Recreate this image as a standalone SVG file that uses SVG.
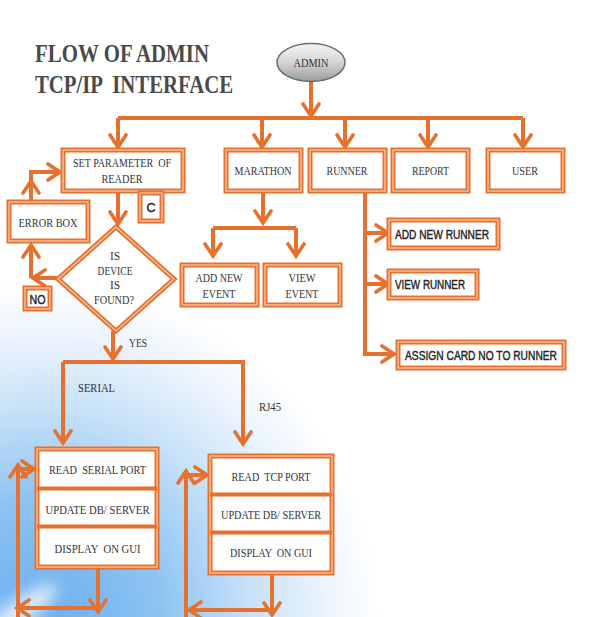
<svg xmlns="http://www.w3.org/2000/svg" xmlns:xlink="http://www.w3.org/1999/xlink" width="605" height="617" viewBox="0 0 605 617">
  <defs>
    <style>
      .box { fill: #ffffff; stroke: #e6702e; stroke-width: 5; }
      .boxin { fill: none; stroke: #f9c6a3; stroke-width: 1.3; }
      .wire { fill: none; stroke: #e6702e; stroke-width: 4; }
      .tip { fill: none; stroke: #e6702e; stroke-width: 3.6; stroke-linecap: round; stroke-linejoin: miter; }
      .t { font-family: "Liberation Serif", "Times New Roman", serif; font-size: 11.5px; fill: #333333; text-anchor: middle; white-space: pre; }
      .s { font-family: "Liberation Sans", Arial, sans-serif; font-size: 12.5px; fill: #222222; stroke: #222222; stroke-width: 0.4; white-space: pre; }
      .title { font-family: "Liberation Serif", "Times New Roman", serif; font-size: 26px; font-weight: bold; fill: #4a4a4a; white-space: pre; }
    </style>
    <radialGradient id="bgBlue" gradientUnits="userSpaceOnUse" cx="40" cy="620" r="340">
      <stop offset="0" stop-color="#6aaeef"/>
      <stop offset="0.35" stop-color="#8cc3f2"/>
      <stop offset="0.62" stop-color="#c6e1f8"/>
      <stop offset="0.85" stop-color="#eef5fd"/>
      <stop offset="1" stop-color="#ffffff"/>
    </radialGradient>
    <linearGradient id="adminFill" x1="0" y1="0" x2="0" y2="1">
      <stop offset="0" stop-color="#f6f6f6"/>
      <stop offset="0.5" stop-color="#d4d4d4"/>
      <stop offset="1" stop-color="#9c9c9c"/>
    </linearGradient>
    <filter id="soft" x="-50%" y="-50%" width="200%" height="200%">
      <feGaussianBlur stdDeviation="8"/>
    </filter>
    <marker id="arrow" markerUnits="userSpaceOnUse" viewBox="-15 -11 18 22" refX="0" refY="0" markerWidth="18" markerHeight="22" orient="auto">
      <path class="tip" d="M-12,-8 L0,0 L-12,8"/>
    </marker>
  </defs>

  <!-- background: white page with a blue glow in the lower-left corner -->
  <rect x="0" y="0" width="605" height="617" fill="#ffffff"/>
  <rect x="0" y="0" width="605" height="617" fill="url(#bgBlue)"/>
  <ellipse cx="20" cy="612" rx="45" ry="12" fill="#ffffff" opacity="0.8" transform="rotate(-35 20 612)" filter="url(#soft)"/>

  <!-- title -->
  <text class="title" x="35" y="62" textLength="174" lengthAdjust="spacingAndGlyphs">FLOW OF ADMIN</text>
  <text class="title" x="35" y="93" textLength="198" lengthAdjust="spacingAndGlyphs">TCP/IP  INTERFACE</text>

  <!-- connectors -->
  <g id="connectors">
    <g class="wire">
      <path d="M311,82 V116" marker-end="url(#arrow)"/>
      <path d="M118,118 H523"/>
      <path d="M118,118 V147" marker-end="url(#arrow)"/>
      <path d="M262,118 V147" marker-end="url(#arrow)"/>
      <path d="M345,118 V147" marker-end="url(#arrow)"/>
      <path d="M428,118 V147" marker-end="url(#arrow)"/>
      <path d="M523,118 V147" marker-end="url(#arrow)"/>
      <path d="M118,191 V224" marker-end="url(#arrow)"/>
      <path d="M58,278 H33" marker-end="url(#arrow)"/>
      <path d="M31,278 V245" marker-end="url(#arrow)"/>
      <path d="M31,202 V181" marker-end="url(#arrow)"/>
      <path d="M31,181 V172 H60" marker-end="url(#arrow)"/>
      <path d="M263,191 V223" marker-end="url(#arrow)"/>
      <path d="M213,228 H296"/>
      <path d="M213,228 V256" marker-end="url(#arrow)"/>
      <path d="M296,228 V256" marker-end="url(#arrow)"/>
      <path d="M365,191 V354 H394" marker-end="url(#arrow)"/>
      <path d="M365,233 H388" marker-end="url(#arrow)"/>
      <path d="M365,284 H388" marker-end="url(#arrow)"/>
      <path d="M113,331 V359" marker-end="url(#arrow)"/>
      <path d="M63,362 H245"/>
      <path d="M63,362 V443" marker-end="url(#arrow)"/>
      <path d="M243,362 V444" marker-end="url(#arrow)"/>
      <path d="M98,567 V612" marker-end="url(#arrow)"/>
      <path d="M98,608 H17" marker-end="url(#arrow)"/>
      <path d="M18,620 V465" marker-end="url(#arrow)"/>
      <path d="M18,469 H34" marker-end="url(#arrow)"/>
      <path d="M272,573 V615" marker-end="url(#arrow)"/>
      <path d="M272,610 H189" marker-end="url(#arrow)"/>
      <path d="M186,620 V471" marker-end="url(#arrow)"/>
      <path d="M186,475 H207" marker-end="url(#arrow)"/>
    </g>
  </g>

  <!-- nodes -->
  <g id="admin">
    <ellipse cx="311" cy="62.5" rx="34" ry="19" fill="url(#adminFill)" stroke="#6b6b6b" stroke-width="1.5"/>
    <text class="t" x="311" y="67" textLength="35" lengthAdjust="spacingAndGlyphs">ADMIN</text>
  </g>

  <g id="set-parameter">
    <rect class="box" x="63" y="150" width="120" height="41"/>
    <rect class="boxin" x="63" y="150" width="120" height="41"/>
    <text class="t" x="122" y="167" textLength="98" lengthAdjust="spacingAndGlyphs">SET PARAMETER  OF</text>
    <text class="t" x="122" y="183" textLength="41" lengthAdjust="spacingAndGlyphs">READER</text>
  </g>

  <g id="marathon">
    <rect class="box" x="226" y="150" width="75" height="41"/>
    <rect class="boxin" x="226" y="150" width="75" height="41"/>
    <text class="t" x="263" y="175" textLength="57" lengthAdjust="spacingAndGlyphs">MARATHON</text>
  </g>

  <g id="runner">
    <rect class="box" x="310" y="150" width="75" height="41"/>
    <rect class="boxin" x="310" y="150" width="75" height="41"/>
    <text class="t" x="347" y="175" textLength="41" lengthAdjust="spacingAndGlyphs">RUNNER</text>
  </g>

  <g id="report">
    <rect class="box" x="393" y="150" width="75" height="41"/>
    <rect class="boxin" x="393" y="150" width="75" height="41"/>
    <text class="t" x="430.5" y="175" textLength="37" lengthAdjust="spacingAndGlyphs">REPORT</text>
  </g>

  <g id="user">
    <rect class="box" x="488" y="150" width="75" height="41"/>
    <rect class="boxin" x="488" y="150" width="75" height="41"/>
    <text class="t" x="525" y="175" textLength="26" lengthAdjust="spacingAndGlyphs">USER</text>
  </g>

  <g id="c-label">
    <rect class="box" x="140" y="193" width="22" height="28"/>
    <rect class="boxin" x="140" y="193" width="22" height="28"/>
    <text class="s" x="151" y="212" text-anchor="middle">C</text>
  </g>

  <g id="error-box">
    <rect class="box" x="9" y="202" width="79" height="39"/>
    <rect class="boxin" x="9" y="202" width="79" height="39"/>
    <text class="t" x="48" y="227" textLength="59" lengthAdjust="spacingAndGlyphs">ERROR BOX</text>
  </g>

  <g id="device-found">
    <polygon class="box" points="116,227 174,279 116,331 58,279"/>
    <polygon class="boxin" points="116,227 174,279 116,331 58,279"/>
    <text class="t" x="115" y="260">IS</text>
    <text class="t" x="115" y="275" textLength="35" lengthAdjust="spacingAndGlyphs">DEVICE</text>
    <text class="t" x="115" y="289">IS</text>
    <text class="t" x="114" y="304" textLength="40" lengthAdjust="spacingAndGlyphs">FOUND?</text>
  </g>

  <g id="no-label">
    <rect class="box" x="25" y="288" width="25" height="21"/>
    <rect class="boxin" x="25" y="288" width="25" height="21"/>
    <text class="s" x="37.5" y="304" text-anchor="middle" textLength="16" lengthAdjust="spacingAndGlyphs">NO</text>
  </g>

  <g id="add-new-event">
    <rect class="box" x="182" y="265" width="75" height="40"/>
    <rect class="boxin" x="182" y="265" width="75" height="40"/>
    <text class="t" x="219" y="282" textLength="47" lengthAdjust="spacingAndGlyphs">ADD NEW</text>
    <text class="t" x="219" y="298" textLength="33" lengthAdjust="spacingAndGlyphs">EVENT</text>
  </g>

  <g id="view-event">
    <rect class="box" x="265" y="265" width="75" height="40"/>
    <rect class="boxin" x="265" y="265" width="75" height="40"/>
    <text class="t" x="302" y="282" textLength="27" lengthAdjust="spacingAndGlyphs">VIEW</text>
    <text class="t" x="302" y="298" textLength="33" lengthAdjust="spacingAndGlyphs">EVENT</text>
  </g>

  <g id="add-new-runner">
    <rect class="box" x="389" y="220" width="109" height="28"/>
    <rect class="boxin" x="389" y="220" width="109" height="28"/>
    <text class="s" x="395" y="239" textLength="94" lengthAdjust="spacingAndGlyphs">ADD NEW RUNNER</text>
  </g>

  <g id="view-runner">
    <rect class="box" x="389" y="271" width="88" height="27"/>
    <rect class="boxin" x="389" y="271" width="88" height="27"/>
    <text class="s" x="395" y="289" textLength="70" lengthAdjust="spacingAndGlyphs">VIEW RUNNER</text>
  </g>

  <g id="assign-card">
    <rect class="box" x="398" y="342" width="166" height="26"/>
    <rect class="boxin" x="398" y="342" width="166" height="26"/>
    <text class="s" x="405" y="360" textLength="152" lengthAdjust="spacingAndGlyphs">ASSIGN CARD NO TO RUNNER</text>
  </g>

  <g id="branch-labels">
    <text class="t" x="138" y="347" textLength="18" lengthAdjust="spacingAndGlyphs">YES</text>
    <text class="t" x="96.5" y="392" textLength="37" lengthAdjust="spacingAndGlyphs">SERIAL</text>
    <text class="t" x="270" y="411" textLength="22" lengthAdjust="spacingAndGlyphs">RJ45</text>
  </g>

  <g id="serial-stack">
    <rect class="box" x="37" y="449" width="120" height="118"/>
    <rect class="boxin" x="37" y="449" width="120" height="118"/>
    <line class="box" x1="37" y1="488.5" x2="157" y2="488.5" style="stroke-width:4"/>
    <line class="box" x1="37" y1="526.5" x2="157" y2="526.5" style="stroke-width:4"/>
    <text class="t" x="97.5" y="474" textLength="97" lengthAdjust="spacingAndGlyphs">READ  SERIAL PORT</text>
    <text class="t" x="97.5" y="514" textLength="104" lengthAdjust="spacingAndGlyphs">UPDATE DB/ SERVER</text>
    <text class="t" x="97.5" y="553" textLength="86" lengthAdjust="spacingAndGlyphs">DISPLAY  ON GUI</text>
  </g>

  <g id="tcp-stack">
    <rect class="box" x="210" y="456" width="122" height="117"/>
    <rect class="boxin" x="210" y="456" width="122" height="117"/>
    <line class="box" x1="210" y1="494.5" x2="332" y2="494.5" style="stroke-width:4"/>
    <line class="box" x1="210" y1="532.5" x2="332" y2="532.5" style="stroke-width:4"/>
    <text class="t" x="271" y="481" textLength="79" lengthAdjust="spacingAndGlyphs">READ  TCP PORT</text>
    <text class="t" x="271" y="519" textLength="100" lengthAdjust="spacingAndGlyphs">UPDATE DB/ SERVER</text>
    <text class="t" x="271" y="557" textLength="82" lengthAdjust="spacingAndGlyphs">DISPLAY  ON GUI</text>
  </g>
</svg>
